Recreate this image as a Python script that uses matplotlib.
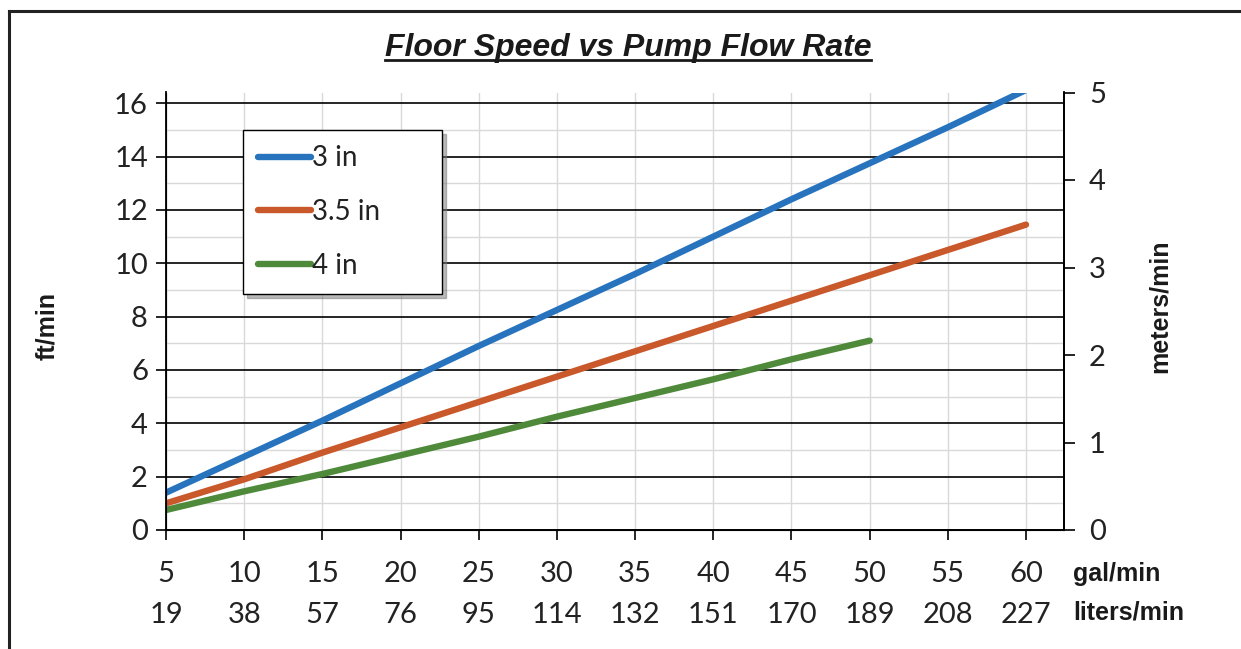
import matplotlib
matplotlib.use("Agg")
import matplotlib.pyplot as plt
from matplotlib.lines import Line2D

W, H = 1241, 649

GAL_MIN = [5, 10, 15, 20, 25, 30, 35, 40, 45, 50, 55, 60]
LITERS_MIN = [19, 38, 57, 76, 95, 114, 132, 151, 170, 189, 208, 227]

SPEED_3IN = [1.4, 2.75, 4.1, 5.5, 6.9, 8.25, 9.6, 11.0, 12.4, 13.75, 15.1, 16.5]
SPEED_35IN = [1.0, 1.9, 2.9, 3.85, 4.8, 5.75, 6.7, 7.65, 8.6, 9.55, 10.5, 11.45]
SPEED_4IN = [0.75, 1.45, 2.1, 2.8, 3.5, 4.25, 4.95, 5.65, 6.4, 7.1]

SERIES = [
    ("3 in", GAL_MIN, SPEED_3IN, "#2773BD"),
    ("3.5 in", GAL_MIN, SPEED_35IN, "#C9582A"),
    ("4 in", GAL_MIN[:len(SPEED_4IN)], SPEED_4IN, "#4F8A3A"),
]

FT_PER_M = 3.28084
TICK_FONT = "Lato"
LABEL_FONT = "Liberation Sans"
TICK_COLOR = "#222222"


def px(x, y):
    return x / W, 1 - y / H


def main():
    fig = plt.figure(figsize=(W / 100, H / 100), dpi=100)
    fig.patch.set_facecolor("white")

    left, right, bottom, top = 166, 1064, 530, 92.5
    ax = fig.add_axes([left / W, 1 - bottom / H, (right - left) / W, (bottom - top) / H])

    ymax = 5 * FT_PER_M
    ax.set_xlim(5, 62.43)
    ax.set_ylim(0, ymax)

    for label, xs, ys, color in SERIES:
        ax.plot(xs, ys, color=color, lw=4.6, solid_capstyle="round", label=label, zorder=3)

    ax.set_yticks(range(0, 17, 2))
    ax.set_yticks(range(1, 17, 2), minor=True)
    ax.set_xticks(GAL_MIN)
    ax.set_xticklabels([f"{g}\n{l}" for g, l in zip(GAL_MIN, LITERS_MIN)],
                       linespacing=1.75)

    ax.grid(True, axis="y", which="major", color="black", lw=1.2, zorder=1)
    ax.grid(True, axis="y", which="minor", color="#d9d9d9", lw=1.0, zorder=0)
    ax.grid(True, axis="x", which="major", color="#d9d9d9", lw=1.0, zorder=0)
    ax.set_axisbelow(True)

    for s in ["left", "bottom", "right"]:
        ax.spines[s].set_color("black")
        ax.spines[s].set_linewidth(1.3)
    ax.spines["top"].set_visible(False)

    ax.tick_params(axis="y", which="major", direction="out", length=7, width=1.2,
                   labelsize=21, labelcolor=TICK_COLOR, pad=6)
    ax.tick_params(axis="y", which="minor", length=0)
    ax.tick_params(axis="x", direction="out", length=7, width=1.2,
                   labelsize=21, labelcolor=TICK_COLOR, pad=15)
    for t in ax.get_xticklabels() + ax.get_yticklabels():
        t.set_fontfamily(TICK_FONT)

    ax2 = ax.twinx()
    ax2.set_ylim(0, ymax / FT_PER_M)
    ax2.set_yticks(range(0, 6))
    ax2.spines["top"].set_visible(False)
    ax2.spines["right"].set_linewidth(1.3)
    ax2.tick_params(axis="y", direction="out", length=8, width=1.2,
                    labelsize=21, labelcolor=TICK_COLOR, pad=10)
    for t in ax2.get_yticklabels():
        t.set_fontfamily(TICK_FONT)

    leg = ax.legend(
        loc="upper left",
        bbox_to_anchor=(243 / W, 1 - 293 / H, 199 / W, 163 / H),
        bbox_transform=fig.transFigure,
        mode="expand",
        borderaxespad=0,
        prop={"family": TICK_FONT, "size": 20},
        handlelength=1.9,
        handletextpad=0.05,
        labelspacing=1.0,
        borderpad=0.55,
        fancybox=False,
        framealpha=1,
        edgecolor="black",
        shadow={"ox": 3, "oy": -3, "color": "#777777", "alpha": 0.5},
    )
    leg.get_frame().set_linewidth(1.0)
    for t in leg.get_texts():
        t.set_color(TICK_COLOR)

    title = fig.text(*px(628, 48), "Floor Speed vs Pump Flow Rate", ha="center", va="center",
                     fontsize=23, fontweight="bold", fontstyle="italic",
                     family=LABEL_FONT, color="#1a1a1a")

    fig.text(*px(47, 326), "ft/min", rotation=90, ha="center", va="center",
             fontsize=18, fontweight="bold", family=LABEL_FONT, color="#1a1a1a")
    fig.text(*px(1160, 306), "meters/min", rotation=90, ha="center", va="center",
             fontsize=18, fontweight="bold", family=LABEL_FONT, color="#1a1a1a")
    fig.text(*px(1073, 574), "gal/min", ha="left", va="center",
             fontsize=18, fontweight="bold", family=LABEL_FONT, color="#1a1a1a")
    fig.text(*px(1073, 613), "liters/min", ha="left", va="center",
             fontsize=18, fontweight="bold", family=LABEL_FONT, color="#1a1a1a")

    # outer frame (top and left edges, the rest runs off the image)
    fig.add_artist(Line2D([9 / W, 1], [1 - 11 / H, 1 - 11 / H], transform=fig.transFigure,
                          color="#222222", lw=2.2))
    fig.add_artist(Line2D([9 / W, 9 / W], [1 - 11 / H, 0], transform=fig.transFigure,
                          color="#222222", lw=2.2))

    # underline the title
    fig.canvas.draw()
    bb = title.get_window_extent()
    y_ul = bb.y0 + 3
    fig.add_artist(Line2D([bb.x0 / W, bb.x1 / W], [y_ul / H, y_ul / H],
                          transform=fig.transFigure, color="#1a1a1a", lw=2.0))

    fig.savefig("out.png", dpi=100)
    plt.close(fig)


if __name__ == "__main__":
    main()
